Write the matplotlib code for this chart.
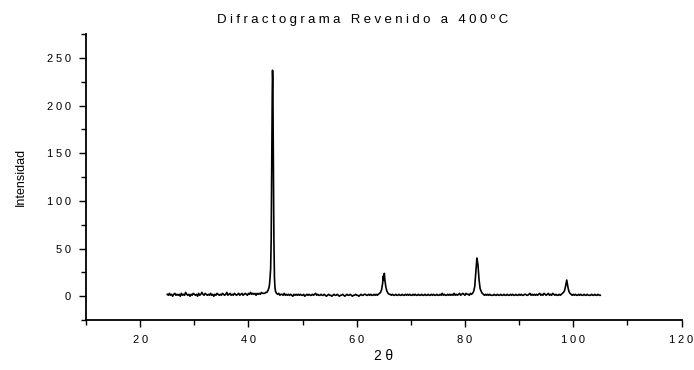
import matplotlib
matplotlib.use("Agg")
import matplotlib.pyplot as plt
from matplotlib.ticker import MultipleLocator, FuncFormatter

plt.rcParams['font.family'] = ['Liberation Sans', 'DejaVu Sans']

# 2-theta positions (degrees)
two_theta = [
    25.0, 25.2, 25.4, 25.6, 25.8, 26.0, 26.2, 26.4, 26.6, 26.8,
    27.0, 27.2, 27.4, 27.6, 27.8, 28.0, 28.2, 28.4, 28.6, 28.8,
    29.0, 29.2, 29.4, 29.6, 29.8, 30.0, 30.2, 30.4, 30.6, 30.8,
    31.0, 31.2, 31.4, 31.6, 31.8, 32.0, 32.2, 32.4, 32.6, 32.8,
    33.0, 33.2, 33.4, 33.6, 33.8, 34.0, 34.2, 34.4, 34.6, 34.8,
    35.0, 35.2, 35.4, 35.6, 35.8, 36.0, 36.2, 36.4, 36.6, 36.8,
    37.0, 37.2, 37.4, 37.6, 37.8, 38.0, 38.2, 38.4, 38.6, 38.8,
    39.0, 39.2, 39.4, 39.6, 39.8, 40.0, 40.2, 40.4, 40.6, 40.8,
    41.0, 41.2, 41.4, 41.6, 41.8, 42.0, 42.2, 42.4, 42.6, 42.8,
    43.0, 43.2, 43.4, 43.6, 43.8, 43.9, 44.0, 44.1, 44.2, 44.3,
    44.4, 44.45, 44.5, 44.6, 44.7, 44.8, 44.9, 45.0, 45.2, 45.4,
    45.6, 45.8, 46.0, 46.2, 46.4, 46.6, 46.8, 47.0, 47.2, 47.4,
    47.6, 47.8, 48.0, 48.2, 48.4, 48.6, 48.8, 49.0, 49.2, 49.4,
    49.6, 49.8, 50.0, 50.2, 50.4, 50.6, 50.8, 51.0, 51.2, 51.4,
    51.6, 51.8, 52.0, 52.2, 52.4, 52.6, 52.8, 53.0, 53.2, 53.4,
    53.6, 53.8, 54.0, 54.2, 54.4, 54.6, 54.8, 55.0, 55.2, 55.4,
    55.6, 55.8, 56.0, 56.2, 56.4, 56.6, 56.8, 57.0, 57.2, 57.4,
    57.6, 57.8, 58.0, 58.2, 58.4, 58.6, 58.8, 59.0, 59.2, 59.4,
    59.6, 59.8, 60.0, 60.2, 60.4, 60.6, 60.8, 61.0, 61.2, 61.4,
    61.6, 61.8, 62.0, 62.2, 62.4, 62.6, 62.8, 63.0, 63.2, 63.4,
    63.6, 63.8, 64.0, 64.2, 64.4, 64.6, 64.8, 64.9, 65.0, 65.1,
    65.2, 65.4, 65.6, 65.8, 66.0, 66.2, 66.4, 66.6, 66.8, 67.0,
    67.2, 67.4, 67.6, 67.8, 68.0, 68.2, 68.4, 68.6, 68.8, 69.0,
    69.2, 69.4, 69.6, 69.8, 70.0, 70.2, 70.4, 70.6, 70.8, 71.0,
    71.2, 71.4, 71.6, 71.8, 72.0, 72.2, 72.4, 72.6, 72.8, 73.0,
    73.2, 73.4, 73.6, 73.8, 74.0, 74.2, 74.4, 74.6, 74.8, 75.0,
    75.2, 75.4, 75.6, 75.8, 76.0, 76.2, 76.4, 76.6, 76.8, 77.0,
    77.2, 77.4, 77.6, 77.8, 78.0, 78.2, 78.4, 78.6, 78.8, 79.0,
    79.2, 79.4, 79.6, 79.8, 80.0, 80.2, 80.4, 80.6, 80.8, 81.0,
    81.2, 81.4, 81.6, 81.8, 82.0, 82.2, 82.4, 82.6, 82.8, 83.0,
    83.2, 83.4, 83.6, 83.8, 84.0, 84.2, 84.4, 84.6, 84.8, 85.0,
    85.2, 85.4, 85.6, 85.8, 86.0, 86.2, 86.4, 86.6, 86.8, 87.0,
    87.2, 87.4, 87.6, 87.8, 88.0, 88.2, 88.4, 88.6, 88.8, 89.0,
    89.2, 89.4, 89.6, 89.8, 90.0, 90.2, 90.4, 90.6, 90.8, 91.0,
    91.2, 91.4, 91.6, 91.8, 92.0, 92.2, 92.4, 92.6, 92.8, 93.0,
    93.2, 93.4, 93.6, 93.8, 94.0, 94.2, 94.4, 94.6, 94.8, 95.0,
    95.2, 95.4, 95.6, 95.8, 96.0, 96.2, 96.4, 96.6, 96.8, 97.0,
    97.2, 97.4, 97.6, 97.8, 98.0, 98.2, 98.4, 98.6, 98.8, 99.0,
    99.2, 99.4, 99.6, 99.8, 100.0, 100.2, 100.4, 100.6, 100.8, 101.0,
    101.2, 101.4, 101.6, 101.8, 102.0, 102.2, 102.4, 102.6, 102.8, 103.0,
    103.2, 103.4, 103.6, 103.8, 104.0, 104.2, 104.4, 104.6, 104.8, 105.0,
]

# intensity (counts) at each position above
intensity = [
    2, 1, 3, 1, 2, 0, 2, 3, 1, 2,
    1, 2, 0, 3, 1, 2, 1, 4, 2, 1,
    2, 0, 2, 1, 3, 2, 1, 2, 0, 3,
    1, 2, 4, 2, 1, 3, 2, 1, 2, 1,
    3, 1, 2, 0, 2, 1, 3, 2, 1, 2,
    1, 3, 2, 1, 2, 4, 1, 2, 3, 1,
    2, 1, 3, 2, 1, 2, 3, 1, 2, 3,
    1, 2, 3, 2, 1, 3, 2, 4, 2, 3,
    2, 3, 1, 3, 2, 3, 2, 4, 3, 3,
    3, 4, 4, 6, 9, 13, 20, 29, 60, 140,
    215, 237, 228, 150, 60, 20, 9, 5, 3, 2,
    3, 1, 2, 2, 1, 3, 1, 2, 1, 2,
    1, 2, 1, 0, 2, 1, 2, 1, 2, 1,
    2, 1, 1, 2, 0, 1, 2, 1, 2, 1,
    1, 2, 1, 2, 3, 1, 2, 1, 1, 2,
    1, 1, 2, 1, 0, 1, 2, 1, 1, 0,
    1, 2, 1, 1, 2, 1, 0, 1, 1, 2,
    1, 0, 1, 2, 1, 1, 2, 1, 0, 1,
    1, 2, 1, 1, 0, 1, 2, 1, 1, 2,
    2, 1, 1, 2, 1, 2, 1, 1, 2, 1,
    2, 1, 2, 3, 4, 7, 14, 21, 17, 24,
    17, 9, 5, 3, 2, 2, 1, 2, 1, 1,
    2, 1, 1, 2, 1, 1, 2, 1, 1, 2,
    1, 2, 1, 2, 1, 1, 2, 1, 2, 1,
    1, 2, 1, 1, 2, 1, 1, 2, 1, 1,
    2, 1, 1, 2, 1, 2, 1, 1, 2, 1,
    1, 2, 1, 3, 1, 2, 1, 1, 2, 1,
    2, 1, 2, 1, 3, 1, 2, 1, 2, 3,
    1, 2, 3, 2, 1, 3, 2, 2, 1, 3,
    2, 3, 5, 10, 25, 40, 33, 17, 8, 5,
    3, 2, 1, 2, 1, 2, 1, 2, 1, 1,
    1, 2, 1, 1, 2, 1, 1, 2, 1, 1,
    2, 1, 1, 2, 1, 1, 2, 1, 2, 1,
    1, 2, 1, 1, 2, 1, 2, 1, 1, 2,
    2, 1, 1, 2, 3, 1, 2, 1, 2, 1,
    2, 1, 2, 3, 1, 2, 1, 3, 2, 1,
    2, 3, 1, 2, 1, 3, 2, 1, 2, 1,
    1, 2, 1, 2, 3, 4, 6, 11, 17, 10,
    5, 3, 2, 1, 2, 1, 2, 1, 1, 2,
    1, 2, 1, 1, 2, 1, 1, 2, 1, 1,
    1, 2, 1, 1, 2, 1, 1, 2, 1, 1,
]

title = "Difractograma Revenido a 400ºC"
x_label = "2θ"
y_label = "Intensidad"


def spaced(s, gap="\u2005"):
    # the original export spreads its letters out
    return gap.join(s)


fig = plt.figure(figsize=(6.94, 3.70), dpi=100)
ax = fig.add_axes([0.124, 0.135, 0.858, 0.773])

ax.plot(two_theta, intensity, color="black", lw=1.2)

ax.set_xlim(10, 120)
ax.set_ylim(-25, 275)
ax.xaxis.set_major_locator(MultipleLocator(20))
ax.xaxis.set_minor_locator(MultipleLocator(10))
ax.yaxis.set_major_locator(MultipleLocator(50))
ax.yaxis.set_minor_locator(MultipleLocator(25))
tick_fmt = FuncFormatter(lambda v, p: spaced(f"{v:.0f}"))
ax.xaxis.set_major_formatter(tick_fmt)
ax.yaxis.set_major_formatter(tick_fmt)

for s in ["top", "right"]:
    ax.spines[s].set_visible(False)
for s in ["left", "bottom"]:
    ax.spines[s].set_linewidth(1.3)

ax.tick_params(which="major", direction="out", length=5, width=1, labelsize=8, pad=6)
ax.tick_params(which="minor", direction="out", length=3.5, width=1)

ax.set_xlabel(spaced(x_label), fontsize=10, labelpad=3)
ax.set_ylabel(y_label, fontsize=9, labelpad=14)
fig.text(0.522, 0.946, spaced(title), ha="center", va="center", fontsize=9.5)

fig.savefig("out.png", dpi=100)
